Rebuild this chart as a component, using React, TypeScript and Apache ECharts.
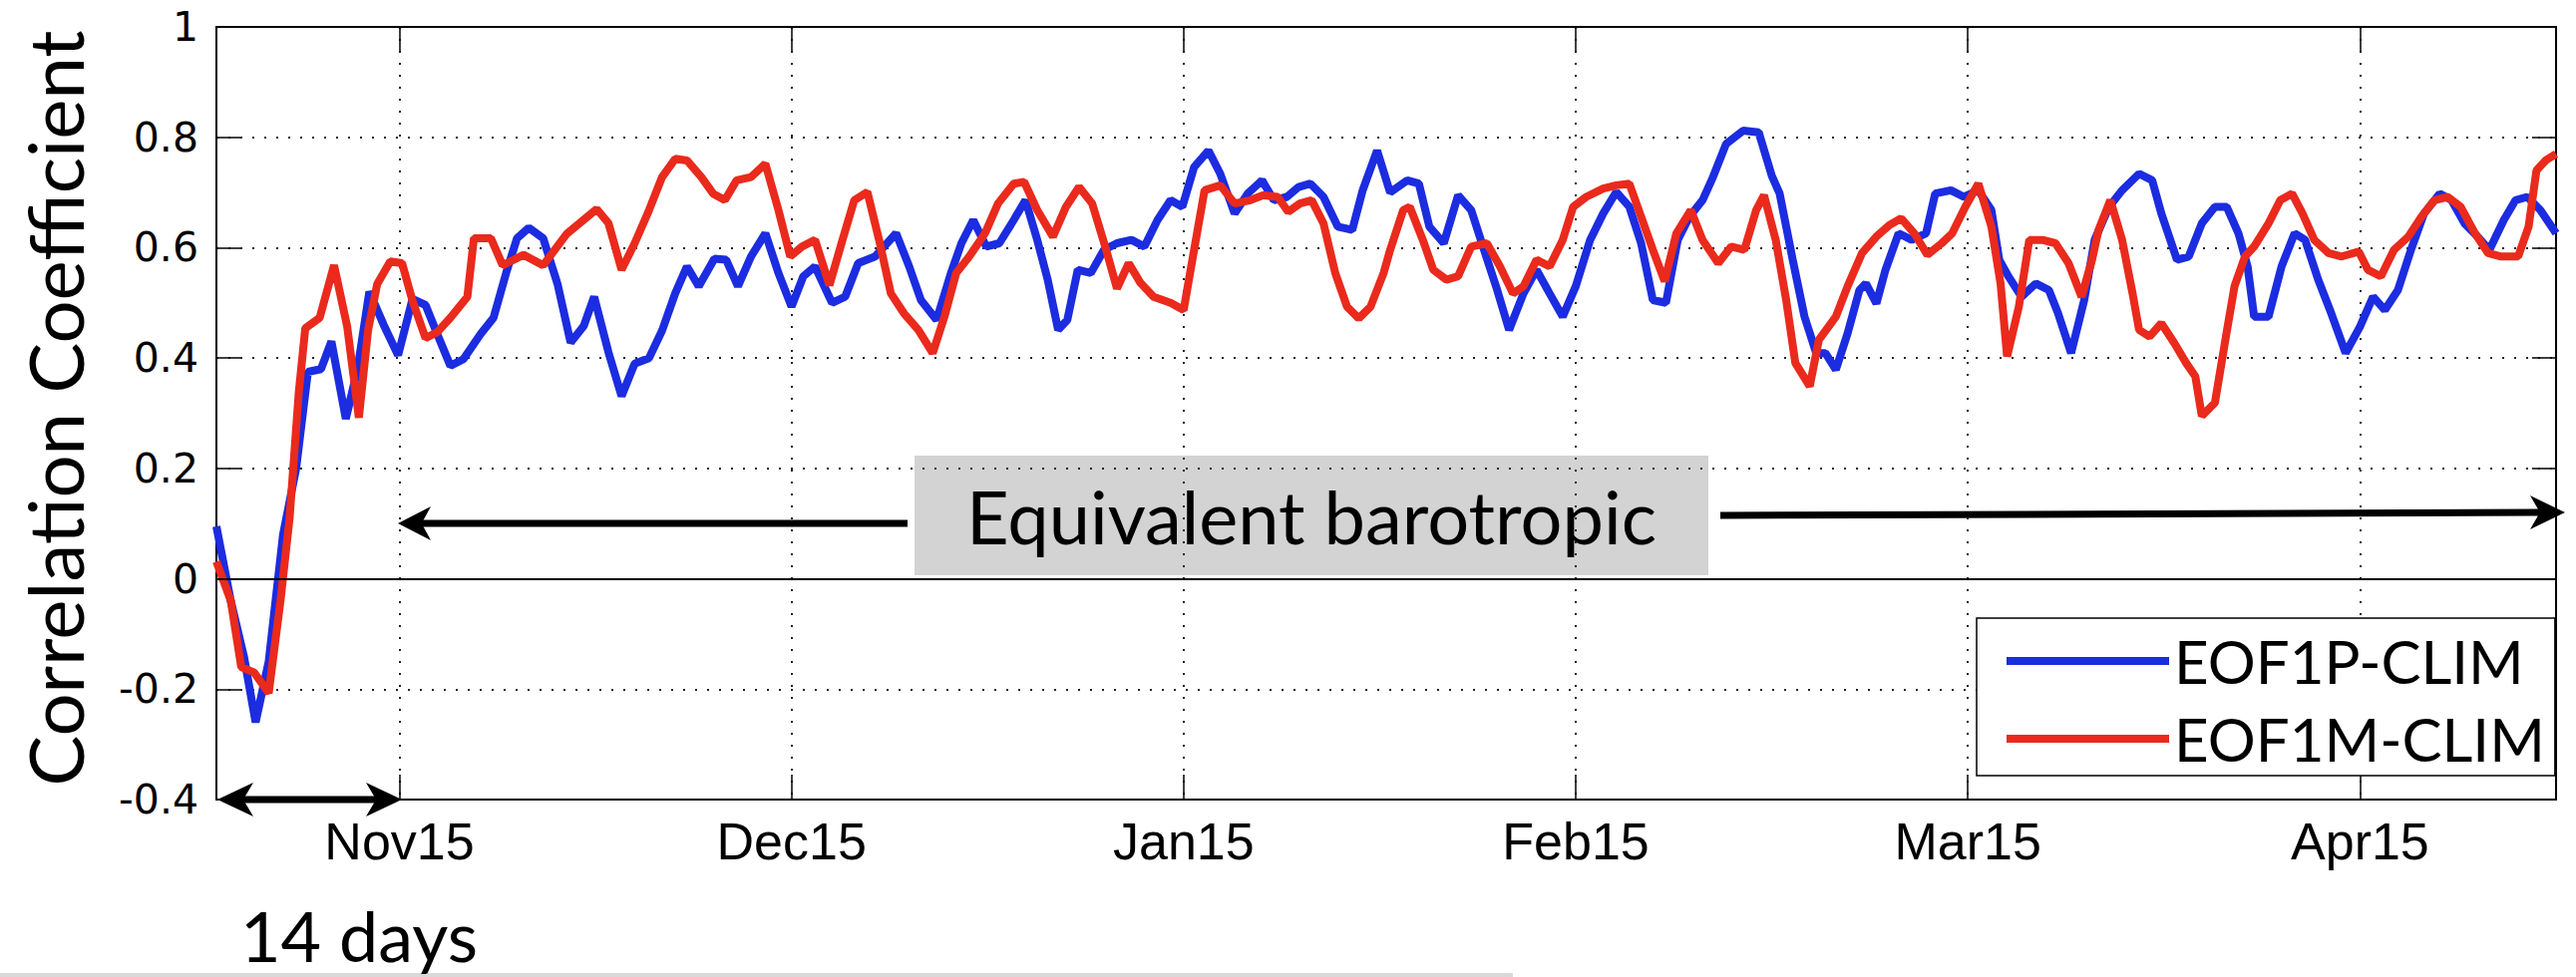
import React, { useEffect, useRef } from "react";
import * as echarts from "echarts";

const xTickDays = [14, 44, 74, 104, 134, 164];
const xTickLabels = ["Nov15", "Dec15", "Jan15", "Feb15", "Mar15", "Apr15"];
const seriesNames = ["EOF1P-CLIM", "EOF1M-CLIM"];

const blueDays = [0, 1.1, 2.1, 3.0, 4.0, 5.1, 6.1, 7.0, 8.0, 8.8, 9.9, 10.8, 11.7, 12.8, 13.9, 15.0, 16.0, 16.9, 17.9, 18.9, 20.2, 21.2, 22.2, 23.0, 23.9, 25.0, 26.1, 27.1, 28.1, 28.9, 30.0, 31.0, 32.0, 33.1, 34.1, 35.1, 36.0, 36.9, 38.1, 39.0, 39.9, 40.9, 42.0, 43.0, 44.0, 44.9, 45.8, 47.1, 48.1, 49.1, 50.4, 52.0, 53.0, 53.9, 55.1, 56.2, 57.0, 57.9, 58.9, 59.9, 61.0, 61.9, 62.8, 63.6, 64.4, 65.1, 65.9, 66.9, 67.9, 68.9, 70.0, 71.0, 72.0, 73.0, 73.9, 74.8, 75.9, 76.8, 77.9, 78.9, 80.0, 80.9, 81.9, 82.8, 83.7, 84.7, 85.8, 86.9, 87.7, 88.8, 89.8, 91.1, 92.0, 92.8, 93.9, 95.0, 96.0, 96.9, 97.9, 98.9, 100.0, 101.0, 102.0, 103.0, 104.0, 105.1, 106.1, 107.1, 108.1, 109.0, 109.9, 110.9, 111.8, 112.7, 113.7, 114.5, 115.5, 116.8, 118.0, 119.0, 119.6, 120.6, 121.5, 122.4, 123.1, 123.9, 124.8, 125.7, 126.2, 127.0, 127.7, 128.7, 129.7, 130.8, 131.5, 132.7, 133.7, 134.8, 135.8, 136.4, 137.1, 138.1, 139.2, 140.2, 140.9, 141.9, 142.9, 143.7, 144.8, 145.8, 147.1, 148.1, 148.8, 150.0, 150.9, 151.9, 152.9, 153.8, 154.7, 155.4, 155.9, 157.0, 158.0, 159.0, 159.8, 160.8, 161.8, 162.9, 164.0, 165.0, 165.9, 166.9, 167.9, 168.9, 170.1, 171.0, 172.0, 173.0, 173.9, 175.0, 175.9, 176.8, 177.8, 179.0];
const blueValues = [0.095, -0.04, -0.14, -0.26, -0.15, 0.08, 0.2, 0.375, 0.38, 0.43, 0.29, 0.38, 0.52, 0.46, 0.405, 0.507, 0.496, 0.443, 0.386, 0.398, 0.443, 0.473, 0.557, 0.617, 0.636, 0.617, 0.534, 0.428, 0.458, 0.511, 0.41, 0.331, 0.39, 0.4, 0.45, 0.517, 0.566, 0.53, 0.58, 0.578, 0.53, 0.584, 0.626, 0.554, 0.493, 0.548, 0.566, 0.5, 0.511, 0.572, 0.584, 0.626, 0.566, 0.505, 0.469, 0.554, 0.608, 0.65, 0.602, 0.608, 0.65, 0.686, 0.614, 0.542, 0.451, 0.469, 0.56, 0.554, 0.596, 0.608, 0.614, 0.602, 0.65, 0.686, 0.674, 0.746, 0.776, 0.734, 0.662, 0.698, 0.722, 0.686, 0.692, 0.71, 0.716, 0.692, 0.638, 0.632, 0.704, 0.776, 0.7, 0.722, 0.716, 0.638, 0.608, 0.695, 0.668, 0.602, 0.53, 0.451, 0.517, 0.56, 0.517, 0.475, 0.53, 0.614, 0.662, 0.701, 0.674, 0.608, 0.505, 0.5, 0.614, 0.656, 0.686, 0.728, 0.788, 0.812, 0.809, 0.73, 0.698, 0.578, 0.475, 0.409, 0.409, 0.379, 0.445, 0.523, 0.535, 0.499, 0.56, 0.626, 0.614, 0.626, 0.698, 0.704, 0.692, 0.704, 0.668, 0.578, 0.548, 0.511, 0.535, 0.523, 0.481, 0.409, 0.505, 0.614, 0.674, 0.704, 0.734, 0.722, 0.662, 0.578, 0.584, 0.644, 0.674, 0.674, 0.626, 0.566, 0.475, 0.475, 0.566, 0.626, 0.614, 0.542, 0.481, 0.409, 0.457, 0.511, 0.487, 0.523, 0.596, 0.662, 0.698, 0.686, 0.644, 0.62, 0.596, 0.65, 0.686, 0.692, 0.668, 0.626];

const redDays = [0, 1.1, 1.9, 2.9, 4.0, 4.9, 5.6, 6.3, 6.8, 7.9, 9.0, 10.0, 10.9, 11.6, 12.3, 13.3, 14.2, 15.0, 16.0, 16.9, 17.9, 19.2, 19.7, 21.0, 21.9, 23.5, 25.0, 26.8, 29.1, 30.0, 31.0, 32.0, 33.1, 34.1, 35.1, 36.0, 37.1, 38.0, 38.9, 39.8, 40.9, 42.0, 43.0, 43.9, 44.8, 45.8, 46.9, 47.9, 48.8, 49.8, 50.7, 51.6, 52.6, 53.7, 54.8, 55.7, 56.6, 57.6, 58.8, 59.8, 61.0, 61.8, 62.8, 64.0, 65.0, 66.0, 67.0, 68.0, 68.9, 69.8, 70.7, 71.7, 73.0, 74.0, 74.8, 75.6, 76.8, 77.9, 79.1, 80.1, 81.2, 82.0, 82.9, 83.8, 84.7, 85.6, 86.5, 87.4, 88.3, 89.3, 89.8, 90.8, 91.3, 92.3, 93.1, 94.1, 95.0, 96.0, 97.2, 98.2, 99.2, 100.0, 101.0, 102.0, 103.0, 103.8, 104.8, 106.1, 107.1, 108.1, 109.0, 109.9, 110.8, 111.7, 112.8, 113.7, 114.9, 115.9, 116.9, 117.8, 118.4, 119.3, 120.1, 120.8, 121.9, 122.6, 123.9, 124.8, 125.9, 127.0, 128.0, 128.9, 129.9, 130.9, 132.0, 132.8, 133.8, 134.8, 135.8, 136.5, 137.0, 137.9, 138.7, 139.7, 140.7, 141.7, 142.7, 143.5, 144.0, 144.9, 145.8, 146.6, 147.1, 147.9, 148.8, 149.8, 150.7, 151.4, 151.9, 152.9, 153.7, 154.4, 155.2, 155.9, 157.0, 157.9, 158.8, 159.6, 160.5, 161.6, 162.6, 163.9, 164.6, 165.6, 166.6, 167.7, 168.7, 169.7, 170.7, 171.7, 172.8, 173.8, 174.8, 176.1, 176.9, 177.5, 178.2, 179.0];
const redValues = [0.031, -0.04, -0.16, -0.17, -0.207, -0.04, 0.11, 0.337, 0.454, 0.473, 0.568, 0.458, 0.292, 0.45, 0.534, 0.575, 0.572, 0.504, 0.436, 0.447, 0.473, 0.511, 0.617, 0.617, 0.568, 0.587, 0.568, 0.625, 0.67, 0.644, 0.56, 0.608, 0.668, 0.728, 0.761, 0.758, 0.728, 0.698, 0.686, 0.722, 0.728, 0.752, 0.668, 0.584, 0.602, 0.614, 0.532, 0.614, 0.686, 0.701, 0.614, 0.517, 0.481, 0.451, 0.409, 0.475, 0.554, 0.584, 0.626, 0.68, 0.716, 0.719, 0.668, 0.62, 0.674, 0.71, 0.68, 0.602, 0.526, 0.572, 0.536, 0.511, 0.5, 0.487, 0.596, 0.704, 0.713, 0.68, 0.686, 0.695, 0.692, 0.665, 0.68, 0.686, 0.644, 0.554, 0.493, 0.472, 0.493, 0.554, 0.596, 0.668, 0.674, 0.614, 0.56, 0.542, 0.548, 0.602, 0.608, 0.566, 0.517, 0.53, 0.578, 0.566, 0.614, 0.674, 0.692, 0.707, 0.713, 0.716, 0.656, 0.596, 0.539, 0.626, 0.668, 0.614, 0.572, 0.602, 0.596, 0.668, 0.695, 0.614, 0.505, 0.391, 0.349, 0.433, 0.475, 0.53, 0.59, 0.62, 0.641, 0.653, 0.626, 0.587, 0.608, 0.626, 0.674, 0.716, 0.638, 0.535, 0.403, 0.493, 0.614, 0.614, 0.608, 0.572, 0.511, 0.578, 0.632, 0.686, 0.614, 0.517, 0.451, 0.439, 0.463, 0.427, 0.391, 0.367, 0.295, 0.319, 0.433, 0.53, 0.584, 0.602, 0.644, 0.686, 0.698, 0.662, 0.614, 0.59, 0.584, 0.593, 0.56, 0.548, 0.596, 0.62, 0.656, 0.686, 0.692, 0.674, 0.626, 0.59, 0.584, 0.584, 0.638, 0.74, 0.758, 0.77];

const BLUE = "#1c2ce0";
const RED = "#ea2a1c";

function arrowHead(tipX: number, tipY: number, dir: number, len: number, half: number) {
  return [
    [tipX, tipY],
    [tipX - dir * len, tipY - half],
    [tipX - dir * len * 0.72, tipY],
    [tipX - dir * len, tipY + half],
  ];
}

export default function App() {
  const ref = useRef<HTMLDivElement>(null);
  useEffect(() => {
    if (!ref.current) return;
    const chart = echarts.init(ref.current, null, { renderer: "svg" });
    const blueData = blueDays.map((d, i) => [d, blueValues[i]]);
    const redData = redDays.map((d, i) => [d, redValues[i]]);
    const dotted = { color: "#222", width: 2, type: [2, 10] as any };
    const tickLabel = (v: number) => {
      const i = xTickDays.indexOf(Math.round(v));
      return i >= 0 ? xTickLabels[i] : "";
    };
    const option: any = {
      animation: false,
      backgroundColor: "#fff",
      grid: { left: 217, right: 20, top: 27, bottom: 178, containLabel: false },
      xAxis: [
        {
          type: "value", min: 0, max: 179, position: "bottom",
          axisLine: { show: true, onZero: false, lineStyle: { color: "#000", width: 2 } },
          axisTick: { show: true, inside: true, length: 25, customValues: xTickDays, lineStyle: { color: "#000", width: 1.5 } },
          axisLabel: { show: true, customValues: xTickDays, formatter: tickLabel, margin: 16, color: "#000", fontFamily: "Liberation Sans", fontSize: 52 },
          splitLine: { show: true, lineStyle: dotted },
        },
        {
          type: "value", min: 0, max: 179, position: "top",
          axisLine: { show: true, onZero: false, lineStyle: { color: "#000", width: 2 } },
          axisTick: { show: true, inside: true, length: 25, customValues: xTickDays, lineStyle: { color: "#000", width: 1.5 } },
          axisLabel: { show: false },
          splitLine: { show: false },
        },
      ],
      yAxis: [
        {
          type: "value", min: -0.4, max: 1, interval: 0.2, position: "left",
          name: "Correlation Coefficient", nameLocation: "middle", nameGap: 125,
          nameTextStyle: { fontFamily: "Lato", fontSize: 76, color: "#000", padding: [0, 0, 0, 10] },
          axisLine: { show: true, onZero: false, lineStyle: { color: "#000", width: 2 } },
          axisTick: { show: true, inside: true, length: 24, lineStyle: { color: "#000", width: 1.5 } },
          axisLabel: { show: true, margin: 18, color: "#000", fontFamily: "DejaVu Sans", fontSize: 41, formatter: (v: number) => String(+v.toFixed(1)) },
          splitLine: { show: true, lineStyle: dotted },
        },
        {
          type: "value", min: -0.4, max: 1, interval: 0.2, position: "right",
          axisLine: { show: true, onZero: false, lineStyle: { color: "#000", width: 2 } },
          axisTick: { show: true, inside: true, length: 24, lineStyle: { color: "#000", width: 1.5 } },
          axisLabel: { show: false },
          splitLine: { show: false },
        },
      ],
      legend: {
        orient: "vertical", left: 1982, top: 620, padding: [12, 10, 6, 30],
        itemWidth: 163, itemHeight: 8, itemGap: 16, icon: "rect", selectedMode: false,
        backgroundColor: "#fff", borderColor: "#000", borderWidth: 1.5, borderRadius: 0,
        textStyle: { fontFamily: "Lato", fontSize: 60, lineHeight: 62, color: "#000" },
        data: seriesNames,
      },
      series: [
        {
          name: seriesNames[0], type: "line", data: blueData, color: BLUE,
          showSymbol: false, symbol: "none", lineStyle: { color: BLUE, width: 8 },
          markLine: {
            silent: true, symbol: "none", label: { show: false },
            lineStyle: { color: "#000", width: 2, type: "solid" },
            data: [{ yAxis: 0 }],
          },
        },
        {
          name: seriesNames[1], type: "line", data: redData, color: RED,
          showSymbol: false, symbol: "none", lineStyle: { color: RED, width: 8 },
        },
      ],
      graphic: [
        { type: "rect", shape: { x: 0, y: 976, width: 1517, height: 4 }, style: { fill: "#d9d9d9" }, silent: true },
        { type: "text", x: 241, y: 938, style: { text: "14 days", fontFamily: "Lato", fontSize: 70, fill: "#000", align: "left", verticalAlign: "middle" } },
        { type: "rect", shape: { x: 917, y: 457, width: 796, height: 120 }, style: { fill: "#d3d3d3" } },
        { type: "text", x: 1315, y: 517, style: { text: "Equivalent barotropic", fontFamily: "Lato", fontSize: 74, fill: "#000", align: "center", verticalAlign: "middle" } },
        { type: "line", shape: { x1: 420, y1: 525, x2: 910, y2: 525 }, style: { stroke: "#000", lineWidth: 7 } },
        { type: "polygon", shape: { points: arrowHead(399, 525, -1, 33, 17) }, style: { fill: "#000" } },
        { type: "line", shape: { x1: 1725, y1: 517, x2: 2550, y2: 514 }, style: { stroke: "#000", lineWidth: 7 } },
        { type: "polygon", shape: { points: arrowHead(2572, 514, 1, 35, 17) }, style: { fill: "#000" } },
        { type: "line", shape: { x1: 235, y1: 802, x2: 388, y2: 802 }, style: { stroke: "#000", lineWidth: 7 } },
        { type: "polygon", shape: { points: arrowHead(218, 802, -1, 36, 17) }, style: { fill: "#000" } },
        { type: "polygon", shape: { points: arrowHead(403, 802, 1, 36, 17) }, style: { fill: "#000" } },
      ],
    };
    chart.setOption(option);
    return () => chart.dispose();
  }, []);
  return (
    <div
      ref={ref}
      style={{ position: "fixed", left: 0, top: 0, width: 2583, height: 980, background: "#fff" }}
    />
  );
}
